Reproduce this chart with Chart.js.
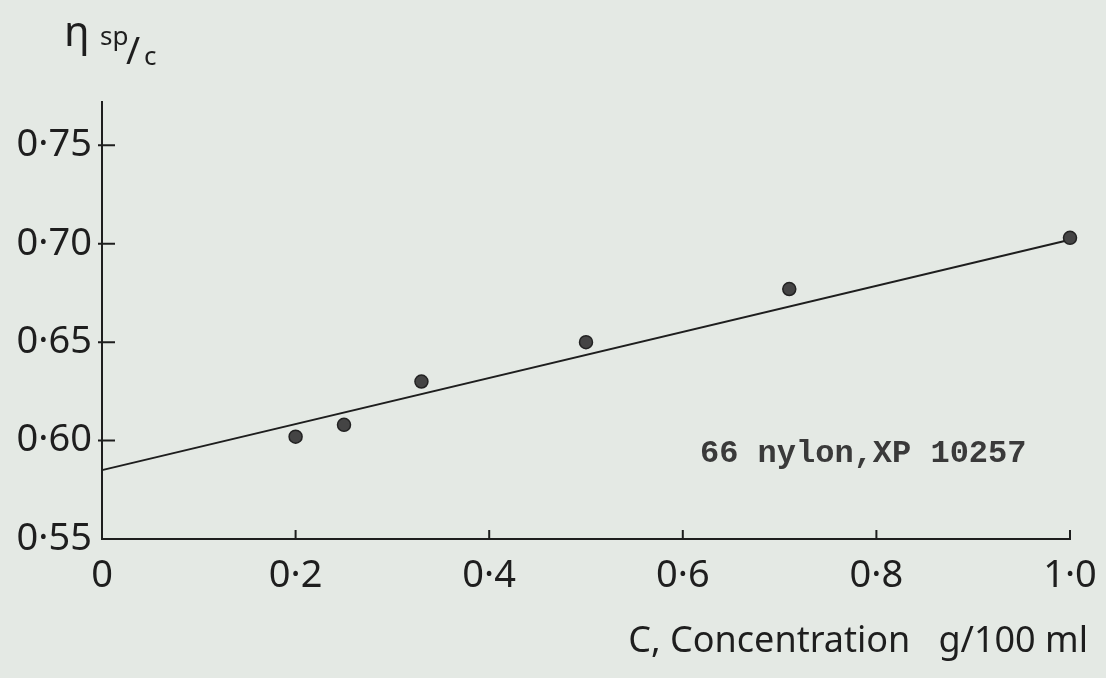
<!DOCTYPE html>
<html>
<head>
<meta charset="utf-8">
<script src="https://cdn.jsdelivr.net/npm/chart.js@4.4.1/dist/chart.umd.min.js"></script>
<style>
    html, body { margin: 0; padding: 0; background: #e4e9e4; }
    #wrap { width: 1106px; height: 678px; }
</style>
</head>
<body>
<div id="wrap"><canvas id="myChart" width="1106" height="678"></canvas></div>
<script>
// concentration c (g/100 ml) and reduced viscosity eta_sp/c
const concentration = [0.20, 0.25, 0.33, 0.50, 0.71, 1.00];
const etaSpC = [0.602, 0.608, 0.630, 0.650, 0.677, 0.703];

// hand drawn straight line through the points
const fitX = [0, 1.0];
const fitY = [0.585, 0.702];

const xTicks = [0, 0.2, 0.4, 0.6, 0.8, 1.0];
const yTicks = [0.55, 0.60, 0.65, 0.70, 0.75];

const xTitle = 'C, Concentration   g/100 ml';
const note = '66 nylon,XP 10257';

const ink = '#1e1e1e';
const handFont = '"Noto Sans", sans-serif';

function toPoints(xs, ys) {
    let pts = [];
    for (let i = 0; i < xs.length; i++) {
        pts.push({x: xs[i], y: ys[i]});
    }
    return pts;
}

// tick marks drawn inward, like the pen ticks in the original
const innerTicks = {
    id: 'innerTicks',
    afterDatasetsDraw(chart) {
        const ctx = chart.ctx;
        const xs = chart.scales.x, ys = chart.scales.y;
        ctx.save();
        ctx.strokeStyle = ink;
        ctx.lineWidth = 2;
        ctx.beginPath();
        xTicks.forEach(function (v) {
            if (v === 0) return;
            const px = xs.getPixelForValue(v);
            ctx.moveTo(px, ys.bottom);
            ctx.lineTo(px, ys.bottom - 9);
        });
        yTicks.forEach(function (v) {
            if (v === 0.55) return;
            const py = ys.getPixelForValue(v);
            ctx.moveTo(xs.left - 4, py);
            ctx.lineTo(xs.left + 13, py);
        });
        ctx.stroke();
        ctx.restore();
    }
};

// axis titles and the sample note
const labels = {
    id: 'labels',
    afterDraw(chart) {
        const ctx = chart.ctx;
        const area = chart.chartArea;
        ctx.save();
        ctx.fillStyle = ink;
        ctx.textBaseline = 'alphabetic';

        // eta sp/c
        ctx.font = '42px ' + handFont;
        ctx.fillText('η', area.left - 38, 46);
        ctx.font = '26px ' + handFont;
        ctx.fillText('sp', area.left - 2, 45);
        ctx.font = '38px ' + handFont;
        ctx.fillText('/', area.left + 24, 64);
        ctx.font = '26px ' + handFont;
        ctx.fillText('c', area.left + 42, 65);

        ctx.font = '36px ' + handFont;
        ctx.textAlign = 'right';
        ctx.fillText(xTitle, area.right + 18, 652);

        ctx.font = 'bold 32px "Liberation Mono", monospace';
        ctx.fillStyle = '#3a3a3a';
        ctx.textAlign = 'left';
        ctx.fillText(note, 700, 462);
        ctx.restore();
    }
};

const data = {
    datasets: [
        {
            type: 'scatter',
            label: 'measured',
            data: toPoints(concentration, etaSpC),
            pointRadius: 6.5,
            pointBackgroundColor: '#444',
            pointBorderColor: '#222',
            pointBorderWidth: 1.5,
            clip: false
        },
        {
            type: 'line',
            label: 'fit',
            data: toPoints(fitX, fitY),
            borderColor: ink,
            borderWidth: 2,
            pointRadius: 0,
            fill: false,
            clip: false
        }
    ]
};

const config = {
    type: 'scatter',
    data: data,
    plugins: [innerTicks, labels],
    options: {
        responsive: false,
        animation: false,
        layout: {
            padding: {top: 102, right: 36, left: 0, bottom: 0}
        },
        plugins: {
            legend: {display: false},
            tooltip: {enabled: false}
        },
        scales: {
            x: {
                type: 'linear',
                min: 0,
                max: 1.0,
                afterFit: function (scale) {
                    scale.height = 139;
                    scale.paddingLeft = 0;
                    scale.paddingRight = 0;
                },
                afterBuildTicks: function (scale) {
                    scale.ticks = xTicks.map(function (v) { return {value: v}; });
                },
                grid: {display: true, drawOnChartArea: false, drawTicks: false},
                border: {display: true, color: ink, width: 2},
                ticks: {
                    padding: 14,
                    color: ink,
                    font: {family: handFont, size: 38},
                    maxRotation: 0,
                    callback: function (v) {
                        return v === 0 ? '0' : v.toFixed(1).replace('.', '·');
                    }
                }
            },
            y: {
                type: 'linear',
                min: 0.55,
                max: 0.772,
                afterFit: function (scale) {
                    scale.width = 102;
                    scale.paddingTop = 0;
                    scale.paddingBottom = 0;
                },
                afterBuildTicks: function (scale) {
                    scale.ticks = yTicks.map(function (v) { return {value: v}; });
                },
                grid: {display: true, drawOnChartArea: false, drawTicks: false},
                border: {display: true, color: ink, width: 2},
                ticks: {
                    padding: 10,
                    color: ink,
                    font: {family: handFont, size: 38},
                    callback: function (v) {
                        return v.toFixed(2).replace('.', '·');
                    }
                }
            }
        }
    }
};

myChart = new Chart(document.getElementById('myChart').getContext('2d'), config);
</script>
</body>
</html>
